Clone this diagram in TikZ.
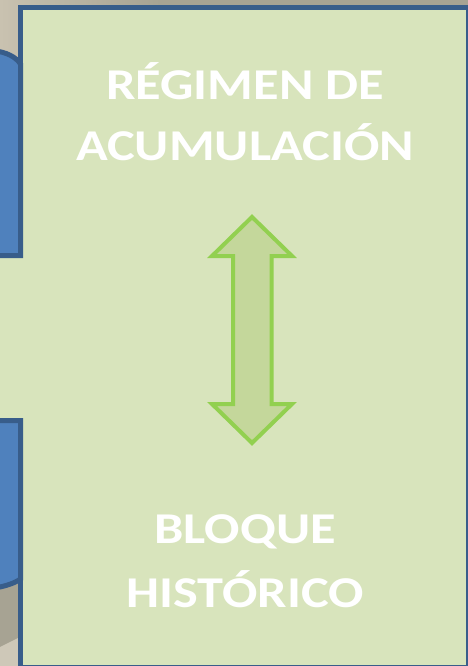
\documentclass[tikz,border=0pt]{standalone}
\usepackage{fontspec}
\setmainfont{Carlito}
\usepackage{xcolor}
\definecolor{panelgreen}{HTML}{D8E4BC}
\definecolor{edgeblue}{HTML}{385D8A}
\definecolor{boxblue}{HTML}{4F81BD}
\definecolor{arrowgreen}{HTML}{92D050}
\definecolor{arrowfill}{HTML}{C4D79B}
\definecolor{bgdark}{HTML}{A7A393}
\definecolor{bglight}{HTML}{C9C2B0}

\begin{document}
\begin{tikzpicture}[x=1pt,y=-1pt,
  panel/.style={fill=panelgreen, draw=edgeblue, line width=5pt},
  blueblock/.style={fill=boxblue, draw=edgeblue, line width=5pt},
  updown/.style={fill=arrowfill, draw=arrowgreen, line width=4pt, line join=miter},
  title/.style={text=white, font=\fontsize{44}{50}\selectfont\bfseries,
    xscale=1.19, anchor=base, inner sep=0pt}]
  % page size
  \useasboundingbox (0,0) rectangle (468,666);

  % background behind the panel
  \fill[bgdark] (0,0) rectangle (468,666);
  \shade[left color=bglight, right color=bgdark] (0,0) rectangle (160,60);
  \fill[bglight!90!white] (0,647) -- (22,636) -- (22,666) -- (0,666) -- cycle;

  % green panel, with its arm between the blue blocks
  \draw[panel] (20.5,7.5) rectangle (468.5,667.5);
  \fill[panelgreen] (-5,250) rectangle (23,425);

  % blue blocks at the left edge
  \draw[blueblock] (-5,51) .. controls (6,52) and (16,57) .. (20.5,64)
    -- (20.5,255.5) -- (-5,255.5) -- cycle;
  \draw[blueblock] (-5,420.5) -- (20.5,420.5) -- (20.5,579)
    .. controls (15,583) and (6,586) .. (-5,588) -- cycle;

  % double arrow
  \draw[updown] (252,217) -- (292,256) -- (271.5,256) -- (271.5,404)
    -- (292,404) -- (252,443) -- (212,404) -- (233,404) -- (233,256)
    -- (212,256) -- cycle;

  % labels
  \node[title] (regimen) at (245,100) {RÉGIMEN DE};
  \node[title] (acumulacion) at (245,160) {ACUMULACIÓN};
  \node[title] (bloque) at (245,543) {BLOQUE};
  \node[title] (historico) at (245,607) {HISTÓRICO};
\end{tikzpicture}
\end{document}
